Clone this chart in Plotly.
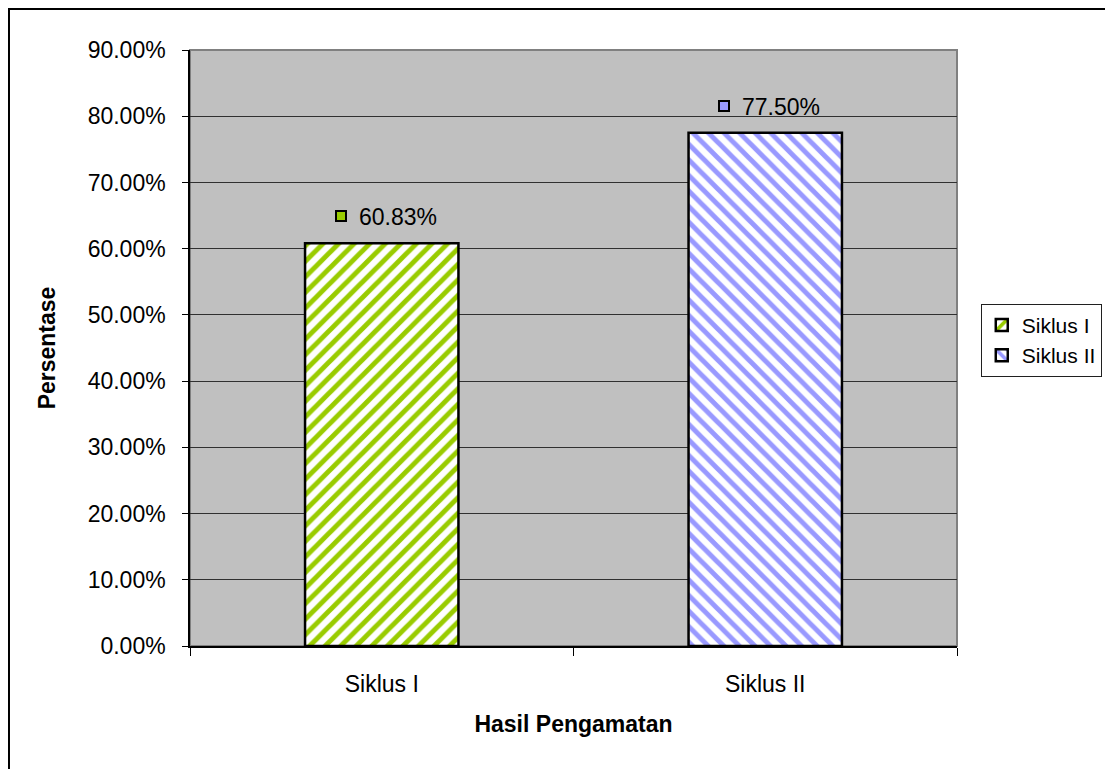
import plotly.graph_objects as go

# data
categories = ["Siklus I", "Siklus II"]
values = [0.6083, 0.7750]
series_names = ["Siklus I", "Siklus II"]
stripe_colors = ["#99CC00", "#9999FF"]
stripe_shapes = ["/", "\\"]

FONT = "Arial, Liberation Sans, sans-serif"

fig = go.Figure()

for cat, val, name, col, shp in zip(categories, values, series_names, stripe_colors, stripe_shapes):
    fig.add_trace(
        go.Bar(
            x=[cat],
            y=[val],
            name=name,
            marker=dict(
                color="white",
                line=dict(color="black", width=2.5),
                pattern=dict(shape=shp, fgcolor=col, bgcolor="white", fgopacity=1,
                             size=11, solidity=0.45),
            ),
            width=0.4,
        )
    )
    # value label with a small legend key square in front of it
    fig.add_annotation(
        x=cat, y=val, xref="x", yref="y",
        text=f"{val * 100:.2f}%",
        showarrow=False, xshift=16, yshift=26,
        font=dict(family=FONT, size=23, color="black"),
    )
    fig.add_annotation(
        x=cat, y=val, xref="x", yref="y",
        text="", width=8, height=8,
        bgcolor=col, bordercolor="black", borderwidth=2, borderpad=0,
        showarrow=False, xshift=-41, yshift=27,
    )

# outer chart frame
fig.add_shape(
    type="rect", xref="paper", yref="paper",
    x0=-0.2373, x1=1.25, y0=-0.215, y1=1.0705,
    line=dict(color="black", width=4), fillcolor="rgba(0,0,0,0)",
)

fig.update_layout(
    width=1113,
    height=769,
    margin=dict(l=182, r=164, t=42, b=131),
    paper_bgcolor="white",
    plot_bgcolor="#C0C0C0",
    font=dict(family=FONT, size=23, color="black"),
    barmode="overlay",
    showlegend=True,
    legend=dict(
        x=1.031, y=0.513, xanchor="left", yanchor="middle",
        bordercolor="#202020", borderwidth=1, bgcolor="white",
        font=dict(family=FONT, size=21),
        itemwidth=30, tracegroupgap=8,
    ),
    xaxis=dict(
        type="category",
        categoryorder="array",
        categoryarray=categories,
        showline=True, linecolor="black", linewidth=1.5,
        ticks="outside", tickson="boundaries", ticklen=8, tickcolor="black",
        ticklabelstandoff=17,
        showgrid=False,
        mirror=False,
        title=dict(text="<b>Hasil Pengamatan</b>", standoff=20,
                   font=dict(family=FONT, size=23)),
    ),
    yaxis=dict(
        range=[0, 0.9],
        dtick=0.1,
        tickformat=".2%",
        showline=True, linecolor="black", linewidth=1.5,
        ticks="outside", ticklen=6, tickcolor="black",
        ticklabelstandoff=12,
        showgrid=True, gridcolor="#303030", gridwidth=1,
        zeroline=False,
        title=dict(text="<b>Persentase</b>", standoff=26,
                   font=dict(family=FONT, size=23)),
    ),
)

# gray plot-area border on the top and right, like the reference
fig.add_shape(
    type="rect", xref="paper", yref="paper", x0=0, x1=1, y0=0, y1=1,
    line=dict(color="#808080", width=2), fillcolor="rgba(0,0,0,0)", layer="below",
)

fig.write_html("out.html")
